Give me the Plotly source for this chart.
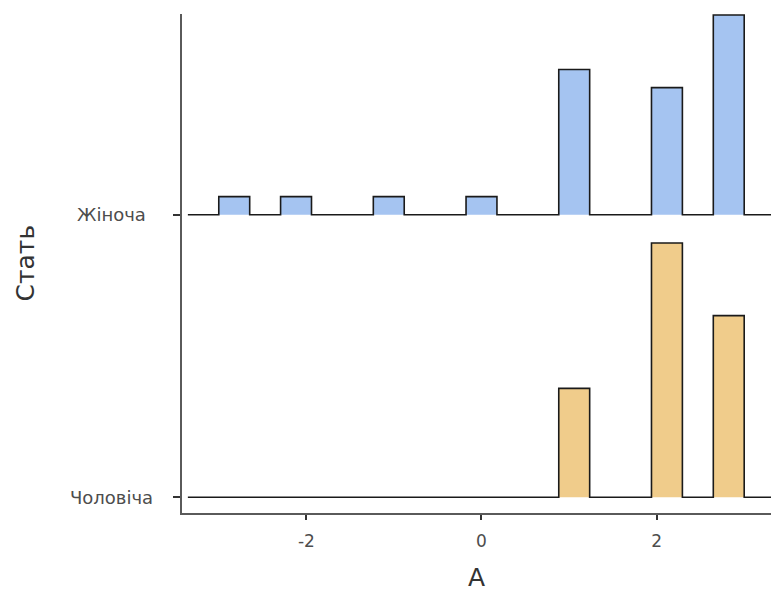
import numpy as np
import plotly.graph_objects as go

# Data
values = [-3, -2, -1, 0, 1, 2, 3]
groups = ["Чоловіча", "Жіноча"]
counts_female = [1, 1, 1, 1, 8, 7, 11]
counts_male = [0, 0, 0, 0, 3, 7, 5]
fills = {"Жіноча": "#A5C4F1", "Чоловіча": "#F0CC8B"}
x_ticks = [-2, 0, 2]
x_title = "A"
y_title = "Стать"

n_bins = 17
rng = (-3, 3)
scale = 0.9

def hist(counts):
    raw = np.repeat(values, counts)
    c, edges = np.histogram(raw, bins=n_bins, range=rng)
    w = edges[1] - edges[0]
    dens = c / c.sum() / w
    # pad one empty bin each side (ggridges pad=TRUE)
    edges = np.concatenate([[edges[0] - w], edges, [edges[-1] + w]])
    dens = np.concatenate([[0], dens, [0]])
    return edges, dens

data = {"Жіноча": hist(counts_female), "Чоловіча": hist(counts_male)}
maxd = max(d.max() for _, d in data.values())

FONT = "DejaVu Sans, Verdana, sans-serif"

fig = go.Figure()
for gi, g in enumerate(groups):
    base = gi + 1
    edges, dens = data[g]
    h = dens / maxd * scale
    xs = [edges[0]]
    ys = [base]
    for i in range(len(h)):
        xs += [edges[i], edges[i + 1]]
        ys += [base + h[i], base + h[i]]
    xs.append(edges[-1])
    ys.append(base)
    fig.add_trace(go.Scatter(
        x=xs, y=ys, mode="lines", fill="toself", fillcolor=fills[g],
        line=dict(color="#1a1a1a", width=1.6), hoverinfo="skip", showlegend=False))

# y category labels (centered, as in reference)
L, R = 182, 771
W = R - L
for gi, g in enumerate(groups):
    fig.add_annotation(x=(111 - L) / W, xref="paper", y=gi + 1, yref="y",
                       text=g, showarrow=False, xanchor="center", yanchor="middle",
                       font=dict(family=FONT, size=18, color="#4d4d4d"))
fig.add_annotation(x=(25 - L) / W, xref="paper", y=0.5, yref="paper",
                   text=y_title, textangle=-90, showarrow=False,
                   xanchor="center", yanchor="middle",
                   font=dict(family=FONT, size=25, color="#333333"))

fig.update_layout(
    width=771, height=592,
    margin=dict(l=L, r=0, t=14, b=79),
    paper_bgcolor="white", plot_bgcolor="white",
    font=dict(family=FONT, color="#4d4d4d"),
    showlegend=False,
)
fig.update_xaxes(
    range=[-3.42, 3.306], tickvals=x_ticks, ticktext=[str(t) for t in x_ticks],
    showgrid=False, zeroline=False, showline=True, linecolor="#5a5a5a", linewidth=1.6,
    ticks="outside", ticklen=5, tickwidth=1.6, tickcolor="#333333",
    ticklabelstandoff=7,
    tickfont=dict(family=FONT, size=17, color="#4d4d4d"),
    title=dict(text=x_title, font=dict(family=FONT, size=25, color="#333333"), standoff=20),
)
fig.update_yaxes(
    range=[0.9445, 2.7105], tickvals=[1, 2], ticktext=["", ""],
    showgrid=False, zeroline=False, showline=True, linecolor="#5a5a5a", linewidth=1.6,
    ticks="outside", ticklen=7, tickwidth=1.6, tickcolor="#333333",
)
fig.write_html("out.html")
